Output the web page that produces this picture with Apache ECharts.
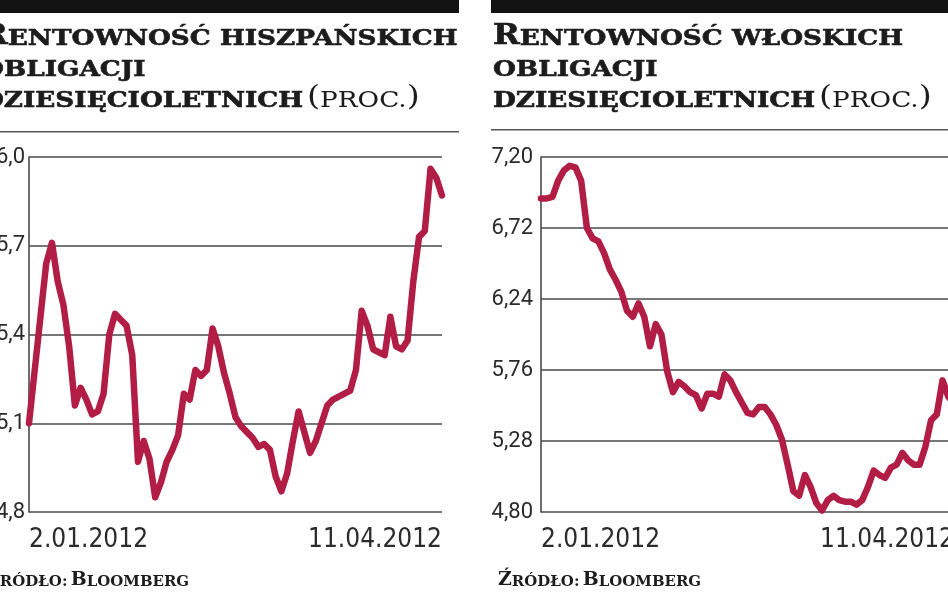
<!DOCTYPE html>
<html><head><meta charset="utf-8">
<script src="https://cdn.jsdelivr.net/npm/echarts@6/dist/echarts.min.js"></script>
<style>html,body{margin:0;padding:0;background:#fff}#c{width:948px;height:593px}</style>
</head><body><div id="c"></div>
<script>
// ---- data ----
const xTickLabels = ['2.01.2012', '11.04.2012'];
const spainYTicks = ['4,8', '5,1', '5,4', '5,7', '6,0'];
const italyYTicks = ['4,80', '5,28', '5,76', '6,24', '6,72', '7,20'];
// Spanish 10Y yield, trading days 2.01.2012 .. 11.04.2012
const spainYield = [
  5.10, 5.28, 5.46, 5.64, 5.71, 5.58, 5.50, 5.36, 5.16, 5.22,
  5.18, 5.13, 5.14, 5.20, 5.40, 5.47, 5.45, 5.43, 5.33, 4.97,
  5.04, 4.98, 4.85, 4.90, 4.97, 5.01, 5.06, 5.20, 5.18, 5.28,
  5.26, 5.28, 5.42, 5.36, 5.27, 5.20, 5.12, 5.09, 5.07, 5.05,
  5.02, 5.03, 5.01, 4.92, 4.87, 4.93, 5.04, 5.14, 5.07, 5.00,
  5.04, 5.10, 5.16, 5.18, 5.19, 5.20, 5.21, 5.28, 5.48, 5.43,
  5.35, 5.34, 5.33, 5.46, 5.36, 5.35, 5.38, 5.58, 5.73, 5.75,
  5.96, 5.93, 5.87
];
// Italian 10Y yield, same days
const italyYield = [
  6.92, 6.92, 6.93, 7.04, 7.11, 7.14, 7.13, 7.04, 6.72, 6.65,
  6.63, 6.55, 6.44, 6.37, 6.29, 6.16, 6.12, 6.21, 6.12, 5.92,
  6.07, 6.00, 5.75, 5.61, 5.68, 5.65, 5.61, 5.59, 5.50, 5.60,
  5.60, 5.58, 5.73, 5.69, 5.61, 5.54, 5.47, 5.46, 5.51, 5.51,
  5.46, 5.39, 5.29, 5.12, 4.94, 4.91, 5.05, 4.97, 4.86, 4.81,
  4.88, 4.91, 4.88, 4.87, 4.87, 4.85, 4.88, 4.97, 5.08, 5.05,
  5.03, 5.10, 5.12, 5.20, 5.15, 5.12, 5.12, 5.24, 5.42, 5.46,
  5.69, 5.58, 5.53
];
const titleSpain = 'HISZPAŃSKICH';
const titleItaly = 'WŁOSKICH';

// ---- styling ----
const LINE = '#b11d44';
const GRID = '#4a4a4a';
const INK = '#1c1c1c';
const SERIF = '"DejaVu Serif", serif';
const mctx = document.createElement('canvas').getContext('2d');
function tw(font, s) { mctx.font = font; return mctx.measureText(s).width; }
const TB = 27, TS = 22;
const titleScale = 410 / (tw('bold ' + TB + 'px ' + SERIF, 'R') + tw('bold ' + TS + 'px ' + SERIF, 'ENTOWNOŚĆ WŁOSKICH'));
const SB = 19, SS = 15;
const srcScale = 205 / (tw('bold ' + SB + 'px ' + SERIF, 'ŹB') + tw('bold ' + SS + 'px ' + SERIF, 'RÓDŁO: LOOMBERG'));

function tok(size, weight, stroke) {
  const t = {fontFamily: SERIF, fontWeight: weight, fontSize: size, fill: INK, verticalAlign: 'bottom'};
  if (stroke) { t.stroke = INK; t.lineWidth = stroke; }
  return t;
}
const richT = {B: tok(TB, 'bold', 0.6), S: tok(TS, 'bold', 0.6), P: tok(28, 'normal', 0), Q: tok(TS, 'normal', 0)};
const richS = {B: tok(SB, 'bold', 0), S: tok(SS, 'bold', 0)};
function textEl(x, y, text, rich, sc) {
  return {type: 'text', x: x, y: y, scaleX: sc, silent: true,
    style: {text: text, rich: rich, align: 'left', verticalAlign: 'bottom'}};
}
function panelDeco(px, country, barX0, barX1, ruleY) {
  return [
    {type: 'rect', silent: true, shape: {x: barX0, y: 0, width: barX1 - barX0, height: 13}, style: {fill: '#121212'}},
    {type: 'rect', silent: true, shape: {x: barX0, y: ruleY, width: barX1 - barX0, height: 1.6}, style: {fill: '#555'}},
    textEl(px, 50, '{B|R}{S|ENTOWNOŚĆ ' + country + '}', richT, titleScale),
    textEl(px, 81, '{S|OBLIGACJI}', richT, titleScale),
    textEl(px, 112, '{S|DZIESIĘCIOLETNICH} {P|(}{Q|PROC.}{P|)}', richT, titleScale),
    textEl(px + 5, 590, '{B|Ź}{S|RÓDŁO:} {B|B}{S|LOOMBERG}', richS, srcScale)
  ];
}

function xAxis(g) {
  return {gridIndex: g, type: 'value', min: 0, max: spainYield.length - 1, interval: spainYield.length - 1,
    axisLine: {show: false}, axisTick: {show: false}, splitLine: {show: false},
    axisLabel: {margin: 15, fontFamily: '"DejaVu Sans Condensed", sans-serif',
      fontSize: 26, color: '#2b2b2b', alignMinLabel: 'left', alignMaxLabel: 'right',
      formatter: (v, i) => xTickLabels[i]}};
}
function yAxis(g, min, max, interval, ticks, margin) {
  return {gridIndex: g, type: 'value', min: min, max: max, interval: interval,
    axisLine: {show: true, lineStyle: {color: GRID, width: 1.6}},
    axisTick: {show: false},
    splitLine: {show: true, lineStyle: {color: GRID, width: 1.6}},
    axisLabel: {margin: margin, fontFamily: 'Roboto, sans-serif', fontSize: 22, color: '#2b2b2b',
      formatter: (v, i) => ticks[i]}};
}
function lineSeries(g, values) {
  return {type: 'line', xAxisIndex: g, yAxisIndex: g, symbol: 'none', silent: true,
    data: values.map((v, i) => [i, v]),
    lineStyle: {color: LINE, width: 6.5, join: 'round', cap: 'round'}};
}

const chart = echarts.init(document.getElementById('c'));
chart.setOption({
  animation: false,
  backgroundColor: '#fff',
  grid: [
    {left: 29, top: 157, width: 413, height: 355, containLabel: false, outerBoundsMode: 'none'},
    {left: 541, top: 157, width: 413, height: 355, containLabel: false, outerBoundsMode: 'none'}
  ],
  xAxis: [xAxis(0), xAxis(1)],
  yAxis: [
    yAxis(0, 4.8, 6.0, 0.3, spainYTicks, 4),
    yAxis(1, 4.8, 7.2, 0.48, italyYTicks, 8)
  ],
  series: [lineSeries(0, spainYield), lineSeries(1, italyYield)],
  graphic: {elements: [].concat(
    panelDeco(-19, titleSpain, 0, 459, 131),
    panelDeco(493, titleItaly, 491, 948, 129)
  )}
});
</script></body></html>
